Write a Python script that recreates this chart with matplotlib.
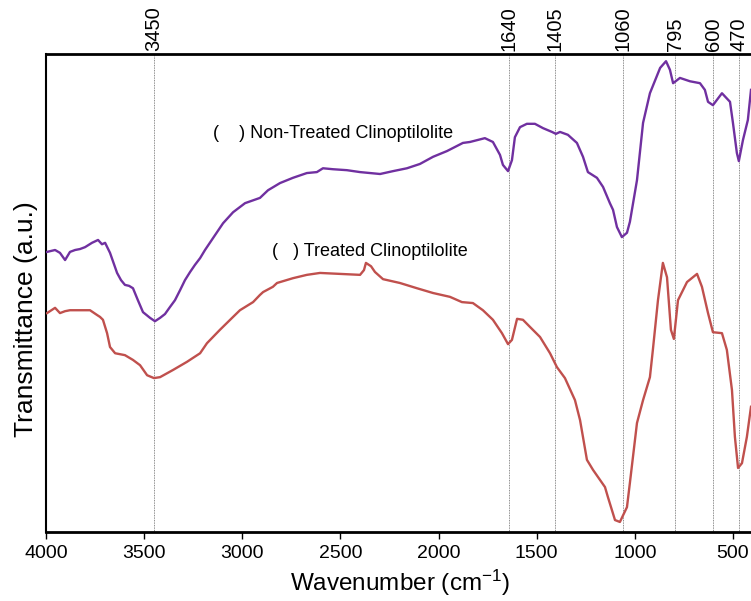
import numpy as np
import matplotlib
matplotlib.use('Agg')
import matplotlib.pyplot as plt
import matplotlib.transforms as mtransforms

plt.rcParams['font.family'] = ['Liberation Sans', 'DejaVu Sans']
plt.rcParams['mathtext.fontset'] = 'custom'
plt.rcParams['mathtext.rm'] = 'Liberation Sans'
plt.rcParams['mathtext.it'] = 'Liberation Sans'

# Non-treated clinoptilolite (purple)
nt_wn = [3995, 3954, 3929, 3903, 3878, 3852, 3827, 3801, 3766, 3735, 3715, 3699,
         3674, 3638, 3618, 3598, 3577, 3557, 3532, 3506, 3470, 3445, 3419, 3394,
         3368, 3343, 3317, 3292, 3266, 3241, 3215, 3190, 3149, 3098, 3047, 2986,
         2910, 2869, 2808, 2742, 2671, 2620, 2589, 2538, 2467, 2400, 2349, 2298,
         2232, 2161, 2095, 2028, 1957, 1876, 1840, 1764, 1723, 1687, 1672, 1646,
         1626, 1611, 1585, 1550, 1509, 1468, 1422, 1402, 1381, 1341, 1295, 1264,
         1239, 1193, 1162, 1127, 1111, 1091, 1066, 1040, 1025, 989, 958, 923,
         871, 841, 821, 805, 770, 719, 668, 643, 627, 602, 556, 515, 500, 480,
         470, 449, 424, 408]
nt_t = [58.6, 59.0, 58.4, 56.9, 58.6, 59.0, 59.2, 59.6, 60.5, 61.1, 60.2, 60.5,
        58.4, 54.2, 52.7, 51.7, 51.5, 51.0, 48.5, 46.0, 44.8, 44.1, 44.8, 45.6,
        47.1, 48.5, 50.6, 52.7, 54.4, 55.9, 57.3, 59.0, 61.5, 64.6, 66.9, 68.8,
        69.9, 71.5, 73.0, 74.1, 75.1, 75.3, 76.1, 75.9, 75.7, 75.3, 75.1, 74.9,
        75.5, 76.1, 77.0, 78.5, 79.7, 81.4, 81.6, 82.4, 81.6, 78.9, 76.8, 75.5,
        77.8, 82.6, 84.7, 85.4, 85.4, 84.5, 83.7, 83.3, 83.7, 83.1, 81.4, 78.5,
        75.3, 74.1, 72.2, 68.8, 67.4, 63.8, 61.7, 62.6, 64.9, 73.6, 85.6, 91.8,
        97.1, 98.5, 96.7, 93.9, 95.0, 94.3, 93.9, 92.5, 90.0, 89.3, 91.8, 90.0, 85.6, 79.3,
        77.6, 82.0, 86.2, 92.5]

# Treated clinoptilolite (red)
tr_wn = [3995, 3954, 3929, 3903, 3878, 3827, 3776, 3740, 3725, 3710, 3689, 3674,
         3648, 3598, 3557, 3521, 3485, 3450, 3419, 3353, 3282, 3215, 3180, 3114,
         3047, 3012, 2945, 2910, 2894, 2844, 2823, 2742, 2671, 2604, 2502, 2400,
         2380, 2370, 2344, 2324, 2283, 2197, 2110, 2028, 1942, 1881, 1825, 1774,
         1723, 1677, 1646, 1626, 1600, 1570, 1534, 1483, 1432, 1397, 1356, 1305,
         1279, 1244, 1213, 1152, 1137, 1101, 1076, 1040, 1025, 989, 958, 923,
         908, 882, 857, 836, 816, 801, 780, 734, 683, 658, 627, 602, 556, 531,
         505, 490, 474, 454, 429, 408]
tr_t = [45.8, 46.9, 45.8, 46.2, 46.4, 46.4, 46.4, 45.4, 45.0, 44.4, 41.6, 38.7,
        37.4, 37.0, 36.0, 34.9, 32.8, 32.2, 32.4, 33.9, 35.6, 37.4, 39.5, 42.3,
        45.0, 46.4, 48.1, 49.6, 50.2, 51.3, 52.1, 53.1, 53.8, 54.2, 54.0, 53.8,
        54.8, 56.3, 55.6, 54.4, 52.9, 52.1, 51.0, 50.0, 49.2, 48.1, 47.9, 46.4,
        44.4, 41.6, 39.3, 40.2, 44.6, 44.4, 42.9, 40.8, 37.4, 34.5, 32.2, 27.6,
        23.4, 15.1, 13.0, 9.4, 7.3, 2.5, 2.1, 5.2, 10.3, 22.8, 27.6, 32.4,
        38.1, 48.5, 56.3, 53.3, 42.3, 40.4, 48.5, 52.3, 54.0, 51.3, 45.8, 41.8, 41.6, 38.1,
        29.7, 19.9, 13.4, 14.4, 19.9, 26.2]

peaks = [3450, 1640, 1405, 1060, 795, 600, 470]

fig = plt.figure(figsize=(7.51, 6.01), dpi=100)
ax = fig.add_axes([0.0613, 0.1148, 0.9387, 0.7953])

for p in peaks:
    ax.axvline(p, color='#666666', linestyle=(0, (1, 1)), linewidth=0.6, zorder=1)

ax.plot(nt_wn, nt_t, color='#7030A0', linewidth=1.7, zorder=3)
ax.plot(tr_wn, tr_t, color='#C0504D', linewidth=1.7, zorder=3)

trans = mtransforms.blended_transform_factory(ax.transData, ax.transAxes)
for p in peaks:
    ax.text(p, 1.006, str(p), transform=trans, rotation=90, ha='center',
            va='bottom', fontsize=14.5)

ax.text(3149, 83.3, '(    ) Non-Treated Clinoptilolite', fontsize=13,
        ha='left', va='center')
ax.text(2849, 58.6, '(   ) Treated Clinoptilolite', fontsize=13,
        ha='left', va='center')

ax.set_xlim(4000, 408)
ax.set_ylim(0, 100)
ax.set_xticks([4000, 3500, 3000, 2500, 2000, 1500, 1000, 500])
ax.set_yticks([])
ax.tick_params(axis='x', direction='out', length=5, width=1, labelsize=14, pad=4)
ax.spines['right'].set_visible(False)
ax.spines['bottom'].set_linewidth(2)
ax.spines['top'].set_linewidth(2)
ax.spines['left'].set_linewidth(1.5)

fig.text(400 / 751, 1 - 583 / 601, 'Wavenumber (cm$^{-1}$)', fontsize=17.5,
         ha='center', va='center')
fig.text(26 / 751, 1 - 319 / 601, 'Transmittance (a.u.)', fontsize=19,
         rotation=90, ha='center', va='center')

fig.savefig('out.png', dpi=100)
